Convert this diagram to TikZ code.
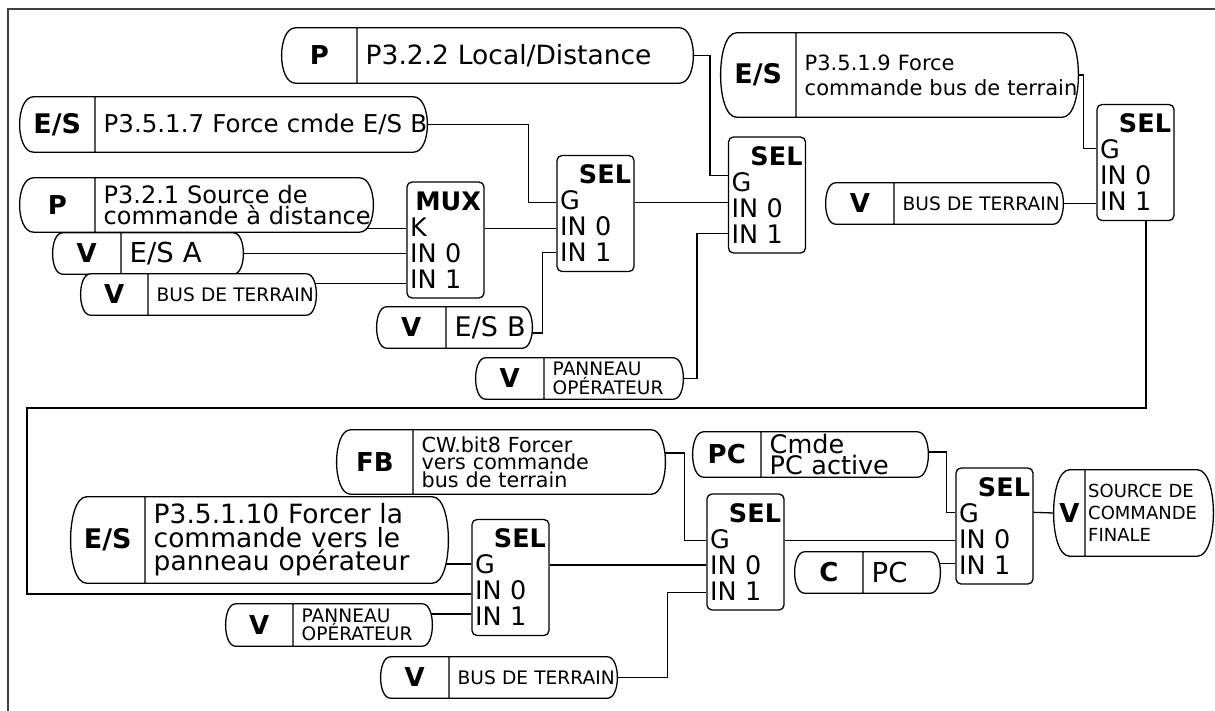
\documentclass[tikz,border=0pt]{standalone}
\usepackage{fontspec}
\setmainfont{DejaVu Sans}
\usetikzlibrary{positioning,backgrounds}

\begin{document}
\begin{tikzpicture}[
  x=1pt,y=-1pt,
  tagbox/.style={rectangle,inner sep=0pt,anchor=east,font=\fontsize{26pt}{26pt}\selectfont\bfseries},
  estag/.style={tagbox,font=\fontsize{27pt}{27pt}\selectfont\bfseries},
  txtbox/.style={rectangle,inner xsep=8.5pt,inner ysep=0pt,align=left},
  bigtxt/.style={txtbox,font=\fontsize{24.5pt}{18pt}\selectfont},
  bustxt/.style={txtbox,font=\fontsize{18.6pt}{15pt}\selectfont},
  selbox/.style={draw,fill=white,line width=1.3pt,rounded corners=5pt,minimum width=77pt,minimum height=116pt,text width=71pt,inner xsep=3pt,align=left,font=\fontsize{25.5pt}{26pt}\selectfont},
  pill/.style={draw,fill=white,line width=1.3pt},
  wire/.style={line width=1.3pt},
  borderline/.style={line width=1.6pt,black!75}
]
\useasboundingbox (0,0) rectangle (1215,711);
\draw[borderline] (8,711) -- (8,9) -- (1215,9);

\node[tagbox,minimum width=75pt,minimum height=55pt] (tp322) at (357,55.5) {P};
\node[txtbox,font=\fontsize{26.5pt}{20pt}\selectfont,minimum height=55pt,text width=319pt,right=0pt of tp322] (p322) {P3.2.2 Local/Distance};
\node[estag,minimum width=75pt,minimum height=55pt] (tp3517) at (95,124.5) {E/S};
\node[bigtxt,minimum height=55pt,text width=315pt,right=0pt of tp3517] (p3517) {\mbox{P3.5.1.7 Force cmde E/S B}};
\node[tagbox,minimum width=75pt,minimum height=54pt] (tp321) at (95,205) {P};
\node[txtbox,font=\fontsize{24pt}{18pt}\selectfont,minimum height=54pt,text width=261pt,right=0pt of tp321] (p321) {P3.2.1 Source de\\\mbox{commande à distance}};
\node[tagbox,minimum width=68pt,minimum height=41pt] (tesa) at (121,253.5) {V};
\node[txtbox,font=\fontsize{27.5pt}{20pt}\selectfont,minimum height=41pt,text width=105pt,right=0pt of tesa] (esa) {E/S A};
\node[tagbox,minimum width=67pt,minimum height=41pt] (tbus1) at (148,294.5) {V};
\node[bustxt,minimum height=41pt,text width=151pt,right=0pt of tbus1] (bus1) {\mbox{BUS DE TERRAIN}};
\node[tagbox,minimum width=69pt,minimum height=41pt] (tesb) at (446,327.5) {V};
\node[txtbox,font=\fontsize{27pt}{20pt}\selectfont,minimum height=41pt,text width=69pt,right=0pt of tesb] (esb) {\mbox{E/S B}};
\node[tagbox,minimum width=68pt,minimum height=41pt] (tpan1) at (544,378.5) {V};
\node[bustxt,minimum height=41pt,text width=122pt,right=0pt of tpan1] (pan1) {PANNEAU\\OPÉRATEUR};
\node[estag,minimum width=75pt,minimum height=84pt] (tp3519) at (796,75) {E/S};
\node[txtbox,font=\fontsize{21pt}{25pt}\selectfont,minimum height=84pt,text width=265pt,right=0pt of tp3519] (p3519) {P3.5.1.9 Force\\\mbox{commande bus de terrain}};
\node[tagbox,minimum width=68pt,minimum height=41pt] (tbus2) at (894,203.5) {V};
\node[bustxt,minimum height=41pt,text width=152pt,right=0pt of tbus2] (bus2) {\mbox{BUS DE TERRAIN}};

\node[selbox] (mux) at (445.5,240) {\hspace*{\fill}\textbf{MUX}\hspace*{\fill}\\K\\IN 0\\IN 1};
\node[selbox] (sel1) at (595.5,213.5) {\hspace*{\fill}\textbf{SEL}\hspace*{\fill}\\G\\IN 0\\IN 1};
\node[selbox] (sel2) at (767,195) {\hspace*{\fill}\textbf{SEL}\hspace*{\fill}\\G\\IN 0\\IN 1};
\node[selbox] (sel3) at (1135.5,162.5) {\hspace*{\fill}\textbf{SEL}\hspace*{\fill}\\G\\IN 0\\IN 1};

\node[tagbox,minimum width=76pt,minimum height=64pt] (tfb) at (413,462) {FB};
\node[txtbox,font=\fontsize{20.7pt}{17.5pt}\selectfont,minimum height=64pt,text width=235pt,right=0pt of tfb] (fb) {CW.bit8 Forcer\\vers commande\\bus de terrain};
\node[estag,minimum width=74pt,minimum height=86pt] (tp35110) at (145,540) {E/S};
\node[txtbox,font=\fontsize{26.5pt}{23.5pt}\selectfont,minimum height=86pt,text width=286pt,right=0pt of tp35110] (p35110) {P3.5.1.10 Forcer la\\commande vers le\\panneau opérateur};
\node[tagbox,minimum width=67pt,minimum height=42pt] (tpan2) at (293,625) {V};
\node[bustxt,minimum height=42pt,text width=122pt,right=0pt of tpan2] (pan2) {PANNEAU\\OPÉRATEUR};
\node[tagbox,minimum width=68pt,minimum height=41pt] (tbus3) at (449,677.5) {V};
\node[bustxt,minimum height=41pt,text width=151pt,right=0pt of tbus3] (bus3) {\mbox{BUS DE TERRAIN}};
\node[tagbox,minimum width=68pt,minimum height=45pt] (tpc) at (761,454.5) {PC};
\node[txtbox,font=\fontsize{25.5pt}{21pt}\selectfont,minimum height=45pt,text width=150pt,right=0pt of tpc] (pc) {Cmde\\PC active};
\node[tagbox,minimum width=68pt,minimum height=41pt] (tcpc) at (863,572.5) {C};
\node[txtbox,font=\fontsize{27.5pt}{20pt}\selectfont,minimum height=41pt,text width=60pt,right=0pt of tcpc] (cpc) {PC};
\node[tagbox,minimum width=31pt,minimum height=86pt] (tsrc) at (1085,513) {V};
\node[txtbox,font=\fontsize{18pt}{22pt}\selectfont,inner xsep=3pt,minimum height=86pt,text width=122pt,right=0pt of tsrc] (src) {SOURCE DE\\COMMANDE\\FINALE};

\node[selbox] (sel4) at (510.5,577.5) {\hspace*{\fill}\textbf{SEL}\hspace*{\fill}\\G\\IN 0\\IN 1};
\node[selbox] (sel5) at (745.5,552) {\hspace*{\fill}\textbf{SEL}\hspace*{\fill}\\G\\IN 0\\IN 1};
\node[selbox] (sel6) at (994.5,526) {\hspace*{\fill}\textbf{SEL}\hspace*{\fill}\\G\\IN 0\\IN 1};

\coordinate (turn) at (27,408);

\begin{scope}[on background layer]
\draw[wire] (p322.east) -| ([xshift=-18pt,yshift=-39pt]sel2.north west) -- ([yshift=-39pt]sel2.north west);
\draw[wire] (p3517.east) -| ([xshift=-28pt,yshift=-48pt]sel1.north west) -- ([yshift=-48pt]sel1.north west);
\draw[wire] ([yshift=-47pt]mux.north west) -- ([yshift=-47pt]mux.north west -| p321.center);
\draw[wire] (esa.east) -- (esa.east -| mux.west);
\draw[wire] ([yshift=-102pt]mux.north west) -- ([yshift=-102pt]mux.north west -| bus1.center);
\draw[wire] ([yshift=-47pt]mux.north east) -- ([yshift=-47pt]mux.north east -| sel1.west);
\draw[wire] ([yshift=-5.5pt]esb.center) -| ([xshift=-14pt,yshift=-98pt]sel1.north west) -- ([yshift=-98pt]sel1.north west);
\draw[wire] (pan1.east) -| ([xshift=-31pt,yshift=-97pt]sel2.north west) -- ([yshift=-97pt]sel2.north west);
\draw[wire] ([yshift=-48pt]sel1.north east) -- ([yshift=-48pt]sel1.north east -| sel2.west);
\draw[wire] (p3519.east) -| ([xshift=-13pt,yshift=-45pt]sel3.north west) -- ([yshift=-45pt]sel3.north west);
\draw[wire] (bus2.east) -- (bus2.east -| sel3.west);
\draw[wire] ([xshift=10.5pt]sel3.south) |- (turn) |- ([yshift=-75pt]sel4.north west);
\draw[wire] ([yshift=9pt]fb.center) -| ([xshift=-22pt,yshift=-47pt]sel5.north west) -- ([yshift=-47pt]sel5.north west);
\draw[wire] ([yshift=-45pt]sel4.north west) -- ([yshift=-45pt]sel4.north west -| p35110.center);
\draw[wire] ([yshift=-95pt]sel4.north west) -- ([yshift=-95pt]sel4.north west -| pan2.center);
\draw[wire] (bus3.east) -| ([xshift=-39pt,yshift=-99pt]sel5.north west) -- ([yshift=-99pt]sel5.north west);
\draw[wire] ([yshift=-46pt]sel4.north east) -- ([yshift=-46pt]sel4.north east -| sel5.west);
\draw[wire] ([yshift=2.5pt]pc.center) -| ([xshift=-9pt,yshift=-45pt]sel6.north west) -- ([yshift=-45pt]sel6.north west);
\draw[wire] ([yshift=-96pt]sel6.north west) -- ([yshift=-96pt]sel6.north west -| cpc.center);
\draw[wire] ([yshift=-47pt]sel5.north east) -- ([yshift=-47pt]sel5.north east -| sel6.west);
\draw[wire] ([yshift=-45pt]sel6.north east) -- (tsrc.west);
\foreach \n/\e in {p322/14,p3517/14,p321/14,esa/10,bus1/10,esb/10,pan1/10,p3519/16,bus2/10,fb/14,p35110/16,pan2/10,bus3/10,pc/11,cpc/10,src/16}
  \draw[pill] (t\n.north east) -- ([xshift=\e]t\n.north west) .. controls +({-4*\e/3},0) and +({-4*\e/3},0) .. ([xshift=\e]t\n.south west)
    -- ([xshift=-\e]\n.south east) .. controls +({4*\e/3},0) and +({4*\e/3},0) .. ([xshift=-\e]\n.north east) -- cycle
    (t\n.north east) -- (t\n.south east);
\end{scope}
\end{tikzpicture}
\end{document}
